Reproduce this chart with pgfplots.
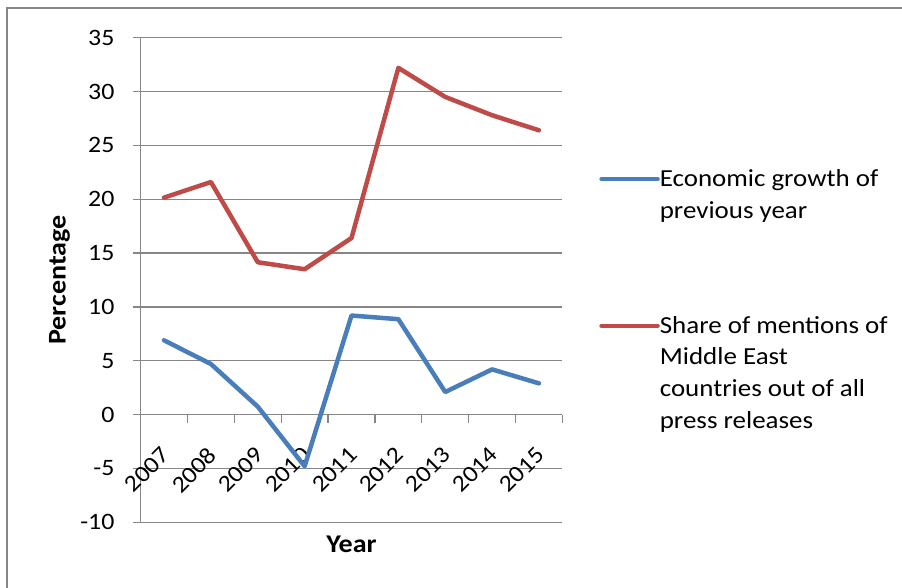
\documentclass[border=0pt]{standalone}
\usepackage{fontspec}
\setmainfont{Carlito}[FakeStretch=1.1]
\usepackage{pgfplots}
\pgfplotsset{compat=1.18}
\definecolor{gridgray}{HTML}{868686}
\definecolor{serblue}{HTML}{4A7EBB}
\definecolor{serred}{HTML}{BE4B48}
\newcommand{\entry}[1]{{\begin{tabular}[t]{@{}l@{}}#1\end{tabular}}}
\begin{document}
\fontsize{23}{31.7}\selectfont
\begin{tikzpicture}[x=1pt,y=1pt]
\path[use as bounding box] (-140.6,-65.7) rectangle (761.4,522.3);
% chart frame (left and top edges)
\draw[gridgray, line width=1.3pt] (-133.6,-80) -- (-133.6,514.3) -- (780,514.3);
\begin{axis}[
  at={(0,0)}, anchor=south west,
  scale only axis, width=421.8pt, height=484.6pt,
  xmin=0.5, xmax=9.5, ymin=-10, ymax=35,
  axis x line*=middle, axis y line*=left,
  axis line style={gridgray, line width=1.3pt},
  tick align=outside,
  xtick={1,...,9},
  xticklabels={2007,2008,2009,2010,2011,2012,2013,2014,2015},
  major x tick style={draw=none},
  minor xtick={0.5,1.5,...,9.5},
  minor tick length=8pt, major tick length=8pt,
  tick style={gridgray, line width=1.3pt},
  ytick={-10,-5,...,35},
  yticklabels={-10,-5,0,5,10,15,20,25,30,35},
  ymajorgrids,
  major grid style={gridgray, line width=1.3pt},
  tick label style={font=\fontsize{23.5}{27}\selectfont},
  xticklabel style={xshift=-4pt, yshift=-23pt, rotate=45, anchor=north east, inner sep=0pt},
  yticklabel style={anchor=east, inner sep=0pt, xshift=-18pt},
  xlabel={Year}, ylabel={Percentage},
  every axis x label/.style={at={(axis description cs:0.5,-0.0454)}, anchor=center,
    font=\fontsize{25.5}{30}\selectfont\bfseries},
  every axis y label/.style={at={(axis description cs:-0.192,0.5)}, anchor=center, rotate=90,
    font=\fontsize{25.5}{30}\selectfont\bfseries},
  clip=false,
  legend style={at={(axis description cs:1.080,0.743)}, anchor=north west,
    draw=none, fill=none, row sep=121pt, column sep=0pt,
    font=\fontsize{24.5}{31.7}\selectfont,
    cells={anchor=base west}, nodes={inner sep=0pt}},
  legend image code/.code={\draw[#1] (0pt,7.5pt) -- (56pt,7.5pt);},
]
\addplot[serblue, line width=4.5pt, line join=round, line cap=round] coordinates {
  (1,6.9) (2,4.7) (3,0.74) (4,-4.8) (5,9.2) (6,8.86) (7,2.1) (8,4.2) (9,2.9)};
\addlegendentry{\entry{Economic growth of\\previous year}}
\addplot[serred, line width=4.5pt, line join=round, line cap=round] coordinates {
  (1,20.15) (2,21.6) (3,14.15) (4,13.5) (5,16.4) (6,32.2) (7,29.5) (8,27.8) (9,26.4)};
\addlegendentry{\entry{Share of mentions of\\Middle East\\countries out of all\\press releases}}
\end{axis}
\end{tikzpicture}
\end{document}
